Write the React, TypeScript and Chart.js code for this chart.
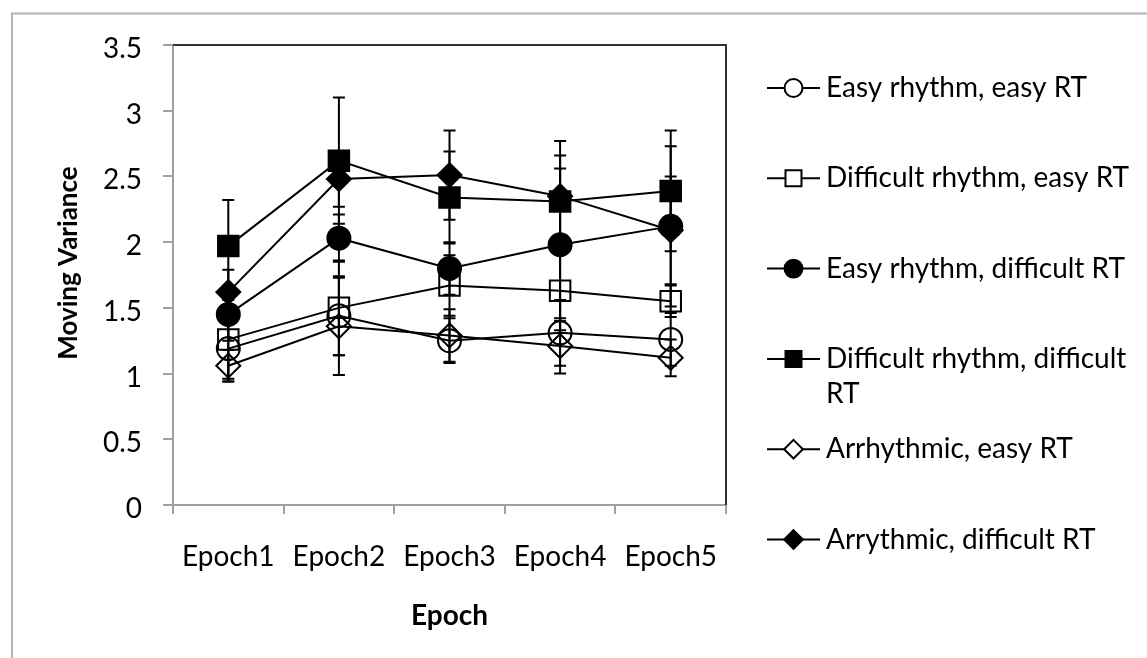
import React, { useEffect, useRef } from 'react';
import { Chart, registerables } from 'chart.js';

Chart.register(...registerables);

const FONT = 'Lato, "Open Sans", sans-serif';

const categories = ['Epoch1', 'Epoch2', 'Epoch3', 'Epoch4', 'Epoch5'];

const seriesNames = [
  'Easy rhythm, easy RT',
  'Difficult rhythm, easy RT',
  'Easy rhythm, difficult RT',
  'Difficult rhythm, difficult RT',
  'Arrhythmic, easy RT',
  'Arrythmic, difficult RT',
];

const easyRhythmEasyRT = [1.19, 1.44, 1.25, 1.31, 1.26];
const difficultRhythmEasyRT = [1.26, 1.5, 1.67, 1.63, 1.55];
const easyRhythmDifficultRT = [1.45, 2.03, 1.8, 1.98, 2.12];
const difficultRhythmDifficultRT = [1.97, 2.62, 2.34, 2.31, 2.39];
const arrhythmicEasyRT = [1.06, 1.36, 1.29, 1.21, 1.12];
const arrhythmicDifficultRT = [1.62, 2.48, 2.51, 2.35, 2.09];

const easyRhythmEasyRTErr = [0.25, 0.3, 0.17, 0.25, 0.2];
const difficultRhythmEasyRTErr = [0.3, 0.36, 0.23, 0.3, 0.12];
const easyRhythmDifficultRTErr = [0.2, 0.18, 0.2, 0.58, 0.61];
const difficultRhythmDifficultRTErr = [0.35, 0.48, 0.35, 0.35, 0.46];
const arrhythmicEasyRTErr = [0.12, 0.37, 0.2, 0.21, 0.14];
const arrhythmicDifficultRTErr = [0.17, 0.21, 0.34, 0.42, 0.41];

const seriesValues = [
  easyRhythmEasyRT,
  difficultRhythmEasyRT,
  easyRhythmDifficultRT,
  difficultRhythmDifficultRT,
  arrhythmicEasyRT,
  arrhythmicDifficultRT,
];
const seriesErrors = [
  easyRhythmEasyRTErr,
  difficultRhythmEasyRTErr,
  easyRhythmDifficultRTErr,
  difficultRhythmDifficultRTErr,
  arrhythmicEasyRTErr,
  arrhythmicDifficultRTErr,
];
const markerShapes = ['circle', 'rect', 'circle', 'rect', 'rectRot', 'rectRot'];
const markerFilled = [false, false, true, true, false, true];
const markerRadius: Record<string, number> = { circle: 11.5, rect: 14.5, rectRot: 12 };

const yMin = 0;
const yMax = 3.5;
const yStep = 0.5;

const xTitle = 'Epoch';
const yTitle = 'Moving Variance';

function drawMarker(ctx: CanvasRenderingContext2D, shape: string, filled: boolean, x: number, y: number, r: number) {
  ctx.save();
  ctx.beginPath();
  if (shape === 'circle') {
    ctx.arc(x, y, r, 0, Math.PI * 2);
  } else if (shape === 'rect') {
    const h = r * Math.SQRT1_2;
    ctx.rect(x - h, y - h, 2 * h, 2 * h);
  } else {
    ctx.moveTo(x, y - r);
    ctx.lineTo(x + r, y);
    ctx.lineTo(x, y + r);
    ctx.lineTo(x - r, y);
    ctx.closePath();
  }
  ctx.fillStyle = filled ? '#000' : '#fff';
  ctx.fill();
  ctx.lineWidth = 2;
  ctx.strokeStyle = '#000';
  ctx.stroke();
  ctx.restore();
}

const framePlugin = {
  id: 'frame',
  beforeDraw(chart: any) {
    const { ctx } = chart;
    ctx.save();
    ctx.fillStyle = '#fff';
    ctx.fillRect(0, 0, chart.width, chart.height);
    ctx.strokeStyle = '#b4b4b4';
    ctx.lineWidth = 2;
    ctx.strokeRect(12, 13.5, chart.width * 2, chart.height * 2);
    ctx.restore();
  },
  afterDraw(chart: any) {
    const { ctx, chartArea } = chart;
    ctx.save();
    // plot area box: top and right edges
    ctx.strokeStyle = '#333';
    ctx.lineWidth = 2;
    ctx.beginPath();
    ctx.moveTo(chartArea.left, chartArea.top);
    ctx.lineTo(chartArea.right, chartArea.top);
    ctx.lineTo(chartArea.right, chartArea.bottom);
    ctx.stroke();

    // axis titles
    ctx.fillStyle = '#000';
    ctx.textAlign = 'center';
    ctx.textBaseline = 'middle';
    ctx.font = `bold 28px ${FONT}`;
    ctx.fillText(xTitle, (chartArea.left + chartArea.right) / 2, chartArea.bottom + 111);
    ctx.font = `bold 26px ${FONT}`;
    ctx.save();
    ctx.translate(chartArea.left - 104, (chartArea.top + chartArea.bottom) / 2 - 12);
    ctx.rotate(-Math.PI / 2);
    ctx.fillText(yTitle, 0, 0);
    ctx.restore();

    // legend
    const lx0 = chartArea.right + 41;
    const lx1 = chartArea.right + 94;
    const mx = (lx0 + lx1) / 2;
    const tx = chartArea.right + 100;
    const maxW = chart.width - tx - 2;
    const y0 = chartArea.top + 43;
    const gap = 90.3;
    const lineH = 35;
    ctx.font = `28px ${FONT}`;
    ctx.textAlign = 'left';
    ctx.textBaseline = 'middle';
    seriesNames.forEach((name, i) => {
      const yy = y0 + gap * i;
      ctx.strokeStyle = '#000';
      ctx.lineWidth = 2;
      ctx.beginPath();
      ctx.moveTo(lx0, yy);
      ctx.lineTo(lx1, yy);
      ctx.stroke();
      drawMarker(ctx, markerShapes[i], markerFilled[i], mx, yy, markerRadius[markerShapes[i]] * 0.78);
      // word wrap
      const words = name.split(' ');
      const lines: string[] = [];
      let cur = '';
      words.forEach((w) => {
        const t = cur ? cur + ' ' + w : w;
        if (ctx.measureText(t).width > maxW && cur) {
          lines.push(cur);
          cur = w;
        } else cur = t;
      });
      lines.push(cur);
      ctx.fillStyle = '#000';
      lines.forEach((ln, k) => ctx.fillText(ln, tx, yy + k * lineH));
    });
    ctx.restore();
  },
};

const errorBarPlugin = {
  id: 'errorBars',
  beforeDatasetsDraw(chart: any) {
    const { ctx } = chart;
    const yScale = chart.scales.y;
    ctx.save();
    ctx.strokeStyle = '#000';
    ctx.lineWidth = 2;
    chart.data.datasets.forEach((ds: any, i: number) => {
      const meta = chart.getDatasetMeta(i);
      const errs = seriesErrors[i];
      meta.data.forEach((pt: any, j: number) => {
        const v = seriesValues[i][j];
        const e = errs[j];
        const yt = yScale.getPixelForValue(v + e);
        const yb = yScale.getPixelForValue(v - e);
        const x = pt.x;
        ctx.beginPath();
        ctx.moveTo(x, yt);
        ctx.lineTo(x, yb);
        ctx.moveTo(x - 6, yt);
        ctx.lineTo(x + 6, yt);
        ctx.moveTo(x - 6, yb);
        ctx.lineTo(x + 6, yb);
        ctx.stroke();
      });
    });
    ctx.restore();
  },
};

export default function App() {
  const ref = useRef<HTMLCanvasElement | null>(null);
  useEffect(() => {
    if (!ref.current) return;
    const datasets = seriesNames.map((name, i) => ({
      label: name,
      data: seriesValues[i],
      borderColor: '#000',
      borderWidth: 2,
      backgroundColor: markerFilled[i] ? '#000' : 'rgba(255,255,255,0)',
      pointStyle: markerShapes[i],
      pointRadius: markerRadius[markerShapes[i]],
      pointBorderWidth: 2,
      pointBorderColor: '#000',
      pointBackgroundColor: markerFilled[i] ? '#000' : 'rgba(255,255,255,0)',
      fill: false,
      tension: 0,
    }));
    const chart = new Chart(ref.current, {
      type: 'line',
      data: { labels: categories, datasets },
      options: {
        responsive: false,
        animation: false,
        devicePixelRatio: 1,
        layout: { padding: { left: 0, top: 45, right: 421, bottom: 0 } },
        plugins: { legend: { display: false }, tooltip: { enabled: false } },
        scales: {
          x: {
            type: 'category',
            offset: true,
            grid: {
              offset: true,
              drawOnChartArea: false,
              drawTicks: true,
              tickLength: 9,
              color: '#a0a0a0',
              lineWidth: 2,
            },
            border: { color: '#a0a0a0', width: 2 },
            ticks: {
              color: '#000',
              font: { family: FONT, size: 28 },
              padding: 26,
              maxRotation: 0,
              autoSkip: false,
            },
            afterFit: (s: any) => {
              s.height = 153;
            },
          },
          y: {
            min: yMin,
            max: yMax,
            grid: {
              drawOnChartArea: false,
              drawTicks: true,
              tickLength: 10,
              color: '#a0a0a0',
              lineWidth: 2,
            },
            border: { color: '#a0a0a0', width: 2 },
            ticks: {
              stepSize: yStep,
              color: '#000',
              font: { family: FONT, size: 28 },
              padding: 21,
              labelOffset: 4,
              callback: (v: any) => String(Number(v)),
            },
            afterFit: (s: any) => {
              s.width = 173;
            },
          },
        },
      },
      plugins: [framePlugin, errorBarPlugin],
    } as any);
    return () => chart.destroy();
  }, []);
  return (
    <div style={{ position: 'fixed', left: 0, top: 0, width: 1147, height: 658, background: '#fff' }}>
      <canvas ref={ref} width={1147} height={658} style={{ width: 1147, height: 658, display: 'block' }} />
    </div>
  );
}
